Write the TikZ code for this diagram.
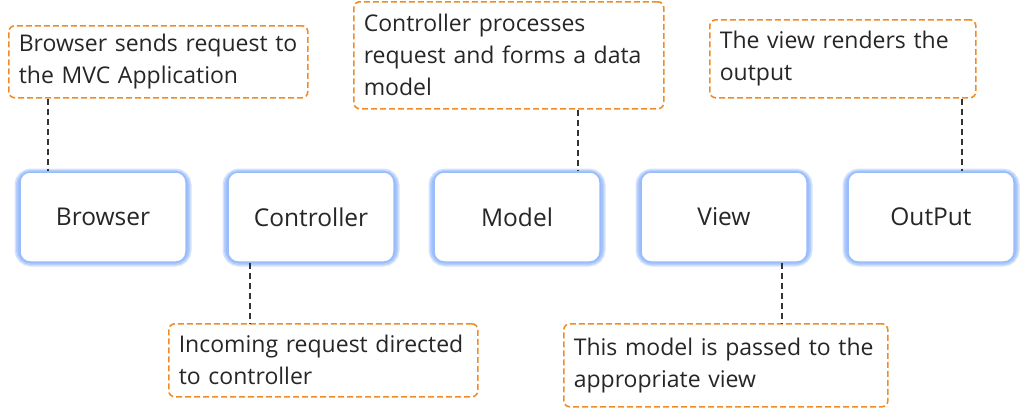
\documentclass[tikz,border=0pt]{standalone}
\usepackage{fontspec}
\setmainfont{Open Sans}
\usetikzlibrary{positioning}
\definecolor{glow}{RGB}{110,160,250}
\definecolor{note}{RGB}{240,140,40}
\tikzset{
  stage/.style={draw=glow!70, line width=1.5pt, fill=white, rounded corners=10pt,
    minimum width=166pt, minimum height=90pt, font=\fontsize{24.5}{30}\selectfont, text=black!85},
  halo/.style={draw=glow, opacity=0.3, line width=#1, rounded corners=12pt},
  callout/.style={draw=note, dashed, line width=1.6pt, dash pattern=on 6pt off 3pt,
    rounded corners=6pt, align=left, inner xsep=10pt, inner ysep=5pt, anchor=north west,
    font=\fontsize{23}{32}\selectfont, text=black!85},
  link/.style={dashed, dash pattern=on 6pt off 4pt, line width=1.5pt, black!80}
}
\begin{document}
\begin{tikzpicture}[x=1pt,y=-1pt]
\useasboundingbox (0,0) rectangle (1024,407);
% stages
\foreach \x/\n/\t in {103/b/Browser,311/c/Controller,517/m/Model,724/v/View,931/o/OutPut}{
  \foreach \w in {9pt,6pt,3pt}
    \draw[halo=\w] (\x-84,173) rectangle (\x+84,262);
  \node[stage] (\n) at (\x,217) {\t};
}
% notes
\node[callout, text width=279pt, minimum height=72pt] (nb) at (8,25) {Browser sends request to\\the MVC Application};
\node[callout, text width=290pt, minimum height=107pt] (nm) at (353,1) {Controller processes\\request and forms a data\\model};
\node[callout, text width=246pt, minimum height=78pt] (no) at (709,19) {The view renders the\\output};
\node[callout, text width=289pt, minimum height=73pt] (nc) at (168,323) {Incoming request directed\\to controller};
\node[callout, text width=304pt, minimum height=83pt] (nv) at (563,323) {This model is passed to the\\appropriate view};
% links
\draw[link] (48,0 |- nb.south) -- (48,0 |- b.north);
\draw[link] (578,0 |- nm.south) -- (578,0 |- m.north);
\draw[link] (962,0 |- no.south) -- (962,0 |- o.north);
\draw[link] (250,0 |- c.south) -- (250,0 |- nc.north);
\draw[link] (782,0 |- v.south) -- (782,0 |- nv.north);
\end{tikzpicture}
\end{document}
